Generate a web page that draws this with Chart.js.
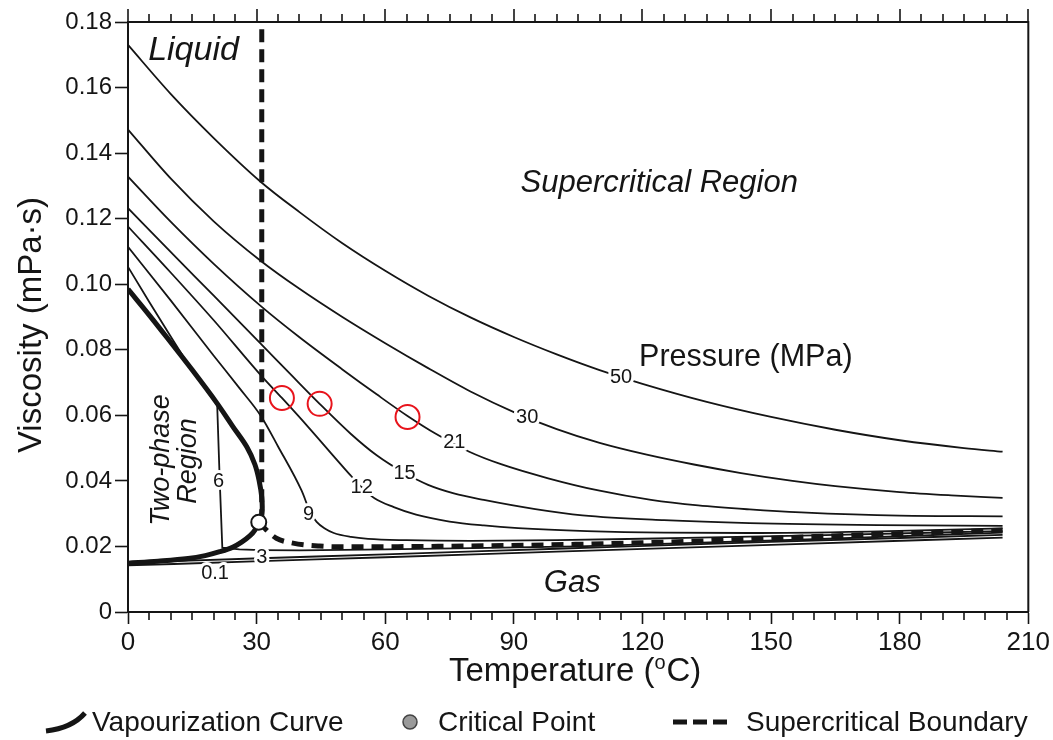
<!DOCTYPE html>
<html>
<head>
<meta charset="utf-8">
<script src="https://cdn.jsdelivr.net/npm/chart.js@4.4.1/dist/chart.umd.min.js"></script>
<style>
  html, body { margin: 0; padding: 0; background: #fff; }
  canvas { display: block; }
</style>
</head>
<body>
<canvas id="c" width="1053" height="740"></canvas>
<script>
// ---- CO2 viscosity isobars: temperature (°C) -> viscosity (mPa·s) ----
const t50 = [0, 10, 20, 31, 40, 50, 60, 70, 80, 90, 100, 110, 120, 135, 150, 165, 180, 195, 204];
const v50 = [.1730, .1580, .1446, .1312, .1220, .1125, .1041, .0965, .0898, .0839, .0786, .0738, .0696, .0641, .0595, .0556, .0524, .0500, .0489];

const t30 = [0, 10, 20, 31, 40, 50, 60, 70, 80, 90, 100, 110, 121, 132, 143, 155, 165, 180, 192, 204];
const v30 = [.1472, .1322, .1192, .1071, .0986, .0900, .0820, .0744, .0672, .0610, .0558, .0516, .0480, .0450, .0424, .0400, .0384, .0366, .0356, .0348];

const t21 = [0, 10, 20, 31, 40, 50, 58, 65.2, 72, 79.6, 87, 98, 110, 122, 133, 145, 157, 180, 204];
const v21 = [.1328, .1190, .1062, .0933, .0838, .0740, .0664, .0598, .0542, .0489, .0451, .0408, .0370, .0342, .0325, .0313, .0304, .0294, .0292];

const t15 = [0, 10, 20, 31, 38, 44.7, 52, 58, 64.5, 70, 76, 83, 95, 106, 125, 145, 175, 204];
const v15 = [.1232, .1098, .0965, .0818, .0724, .0635, .0543, .0478, .0424, .0388, .0362, .0342, .0314, .0295, .0280, .0271, .0265, .0263];

const t12 = [0, 10, 20, 31, 35.9, 42, 48, 51.7, 54.5, 57.5, 62, 67.2, 75, 83, 91, 107, 125, 145, 175, 204];
const v12 = [.1176, .1035, .0890, .0722, .0653, .0565, .0475, .0420, .0381, .0347, .0320, .0297, .0276, .0264, .0256, .0247, .0242, .0241, .0246, .0255];

const t9 = [0, 10, 20, 26, 31, 35, 40.5, 42.5, 44, 46, 48, 52, 56, 65, 80, 100, 130, 160, 204];
const v9 = [.1114, .0950, .0782, .0683, .0598, .0505, .0370, .0305, .0275, .0254, .0241, .0229, .0223, .0219, .0217, .0219, .0226, .0234, .0247];

const t6 = [0, 5, 10, 15, 20.8, 21.4, 22.0, 26, 31, 40, 60, 80, 105, 130, 160, 204];
const v6 = [.1053, .0945, .0840, .0735, .0632, .0400, .0196, .0191, .0189, .0188, .0191, .0195, .0200, .0210, .0222, .0242];

const t3 = [0, 31, 60, 100, 150, 204];
const v3 = [.0151, .0164, .0176, .0193, .0214, .0235];

const t01 = [0, 31, 60, 100, 150, 204];
const v01 = [.0142, .0155, .0167, .0184, .0205, .0227];

// vapourization curve: liquid branch down to the critical point, then gas branch back
const tVap = [0, 5, 10, 15, 20.7, 24.5, 27.7, 29.6, 30.6, 31.2, 31.3, 31.0, 30.5, 29.6, 28.4, 26.5, 24.5, 21.4, 18, 14, 7, 0];
const vVap = [.0985, .0905, .0822, .0738, .0638, .0565, .0504, .0450, .0400, .0350, .0310, .0288, .0274, .0250, .0232, .0213, .0198, .0184, .0172, .0163, .0155, .0149];

// supercritical boundary: critical isotherm and critical isobar
const tIsotherm = [31.2, 31.2];
const vIsotherm = [.0274, .18];
const tIsobar = [30.5, 32.3, 34.6, 38.5, 44.7, 50, 70, 107, 130, 160, 204];
const vIsobar = [.0274, .0250, .0225, .0210, .0201, .0199, .0200, .0207, .0215, .0230, .0250];

// critical point and highlighted states
const tCritical = [30.5];
const vCritical = [.0274];
const tMarked = [35.9, 44.7, 65.2];
const vMarked = [.0653, .0635, .0595];

// isobar labels (MPa) and where they sit on their curves
const isobarNames = ['50', '30', '21', '15', '12', '9', '6', '3', '0.1'];
const isobarNameT = [115.0, 93.1, 76.1, 64.5, 54.5, 42.1, 21.1, 31.2, 20.3];
const isobarNameV = [.0716, .0592, .0516, .0424, .0381, .0296, .0397, .0165, .0119];

// axis ticks
const xTickValues = [0, 30, 60, 90, 120, 150, 180, 210];
const xTickLabels = ['0', '30', '60', '90', '120', '150', '180', '210'];
const yTickValues = [0, .02, .04, .06, .08, .10, .12, .14, .16, .18];
const yTickLabels = ['0', '0.02', '0.04', '0.06', '0.08', '0.10', '0.12', '0.14', '0.16', '0.18'];

const FONT = '"Liberation Sans", Arial, Helvetica, sans-serif';
const INK = '#151515';

const pts = (ts, vs) => ts.map((t, i) => ({ x: t, y: vs[i] }));

const isobar = (label, ts, vs, mode) => ({
  label, data: pts(ts, vs), borderColor: INK, borderWidth: 1.8,
  pointRadius: 0, fill: false,
  ...(mode === 'straight' ? { tension: 0 } : { cubicInterpolationMode: 'monotone' })
});

// datasets listed top-most first (Chart.js paints index 0 last)
const datasets = [
  { label: 'Marked states', data: pts(tMarked, vMarked), showLine: false,
    pointRadius: 12, pointBorderWidth: 2, pointBorderColor: '#e8141c',
    pointBackgroundColor: 'rgba(0,0,0,0)', pointHoverRadius: 12 },
  { label: 'Critical Point', data: pts(tCritical, vCritical), showLine: false,
    pointRadius: 7.5, pointBorderWidth: 2, pointBorderColor: INK,
    pointBackgroundColor: '#fff', pointHoverRadius: 7.5 },
  { label: 'Vapourization Curve', data: pts(tVap, vVap), borderColor: INK,
    borderWidth: 5, pointRadius: 0, tension: 0.35, fill: false },
  { label: 'Supercritical Boundary', data: pts(tIsotherm, vIsotherm), borderColor: INK,
    borderWidth: 5, borderDash: [13, 7], pointRadius: 0, tension: 0, fill: false },
  { label: 'Supercritical Boundary (isobar)', data: pts(tIsobar, vIsobar), borderColor: INK,
    borderWidth: 5, borderDash: [12, 8], pointRadius: 0, cubicInterpolationMode: 'monotone', fill: false },
  isobar('50 MPa', t50, v50),
  isobar('30 MPa', t30, v30),
  isobar('21 MPa', t21, v21),
  isobar('15 MPa', t15, v15),
  isobar('12 MPa', t12, v12),
  isobar('9 MPa', t9, v9),
  isobar('6 MPa', t6, v6, 'straight'),
  isobar('3 MPa', t3, v3),
  isobar('0.1 MPa', t01, v01)
];

// region names, anchored in data units
const regionText = [
  { text: 'Liquid', t: 4.7, v: .1684, size: 34, italic: true, align: 'left' },
  { text: 'Supercritical Region', t: 123.9, v: .1281, size: 31, italic: true, align: 'center' },
  { text: 'Pressure (MPa)', t: 119.2, v: .0750, size: 30.5, italic: false, align: 'left' },
  { text: 'Gas', t: 97.0, v: .0061, size: 31, italic: true, align: 'left' }
];
const twoPhaseText = [
  { text: 'Two-phase', t: 7.8, v: .0464 },
  { text: 'Region', t: 14.2, v: .0461 }
];

const decorations = {
  id: 'decorations',
  afterDatasetsDraw(chart) {
    const { ctx, scales: { x, y } } = chart;
    ctx.save();
    ctx.font = `20px ${FONT}`;
    ctx.textAlign = 'center';
    ctx.textBaseline = 'middle';
    ctx.lineJoin = 'round';
    isobarNames.forEach((name, i) => {
      const px = x.getPixelForValue(isobarNameT[i]);
      const py = y.getPixelForValue(isobarNameV[i]);
      ctx.strokeStyle = '#fff';
      ctx.lineWidth = 6;
      ctx.strokeText(name, px, py);
      ctx.fillStyle = INK;
      ctx.fillText(name, px, py);
    });
    ctx.restore();
  },
  afterDraw(chart) {
    const { ctx, chartArea: a, scales: { x, y } } = chart;
    ctx.save();
    ctx.strokeStyle = INK;
    ctx.fillStyle = INK;

    // frame: top and right edges
    ctx.lineWidth = 2;
    ctx.beginPath();
    ctx.moveTo(a.left, a.top); ctx.lineTo(a.right, a.top); ctx.lineTo(a.right, a.bottom);
    ctx.stroke();

    // temperature ticks every 5 °C: top edge (all), bottom edge (minor ones)
    ctx.lineWidth = 1.6;
    for (let t = 0; t <= 210; t += 5) {
      const px = Math.round(x.getPixelForValue(t));
      const major = t % 30 === 0;
      ctx.beginPath();
      ctx.moveTo(px, a.top);
      ctx.lineTo(px, a.top - (major ? 13 : 8));
      ctx.stroke();
      if (!major) {
        ctx.beginPath();
        ctx.moveTo(px, a.bottom);
        ctx.lineTo(px, a.bottom + 8);
        ctx.stroke();
      }
    }

    // region names
    regionText.forEach(r => {
      ctx.font = `${r.italic ? 'italic ' : ''}${r.size}px ${FONT}`;
      ctx.textAlign = r.align;
      ctx.textBaseline = 'alphabetic';
      ctx.fillText(r.text, x.getPixelForValue(r.t), y.getPixelForValue(r.v));
    });
    ctx.font = `italic 27px ${FONT}`;
    ctx.textAlign = 'center';
    ctx.textBaseline = 'middle';
    twoPhaseText.forEach(r => {
      ctx.save();
      ctx.translate(x.getPixelForValue(r.t), y.getPixelForValue(r.v));
      ctx.rotate(-Math.PI / 2);
      ctx.fillText(r.text, 0, 0);
      ctx.restore();
    });

    // axis titles
    ctx.textBaseline = 'alphabetic';
    ctx.textAlign = 'left';
    const big = `33px ${FONT}`, sup = `20px ${FONT}`;
    ctx.font = big; const w1 = ctx.measureText('Temperature (').width;
    ctx.font = sup; const w2 = ctx.measureText('o').width + 1;
    ctx.font = big; const w3 = ctx.measureText('C)').width;
    let sx = (a.left + a.right) / 2 - 3 - (w1 + w2 + w3) / 2;
    const base = 681;
    ctx.font = big; ctx.fillText('Temperature (', sx, base); sx += w1;
    ctx.font = sup; ctx.fillText('o', sx, base - 12); sx += w2;
    ctx.font = big; ctx.fillText('C)', sx, base);

    ctx.save();
    ctx.translate(32, (a.top + a.bottom) / 2 + 8);
    ctx.rotate(-Math.PI / 2);
    ctx.textAlign = 'center';
    ctx.textBaseline = 'middle';
    ctx.font = `33px ${FONT}`;
    ctx.fillText('Viscosity (mPa\u00b7s)', 0, 0);
    ctx.restore();

    // key along the bottom
    const ly = 722;
    ctx.font = `28px ${FONT}`;
    ctx.textAlign = 'left';
    ctx.textBaseline = 'middle';
    ctx.lineWidth = 5;
    ctx.lineCap = 'butt';
    ctx.beginPath();
    ctx.moveTo(46, ly + 9);
    ctx.quadraticCurveTo(72, ly + 6, 85, ly - 9);
    ctx.stroke();
    ctx.fillText('Vapourization Curve', 92, ly + 1);

    ctx.beginPath();
    ctx.arc(410, ly, 7, 0, Math.PI * 2);
    ctx.fillStyle = '#9a9a9a';
    ctx.fill();
    ctx.lineWidth = 1.5;
    ctx.strokeStyle = '#444';
    ctx.stroke();
    ctx.fillStyle = INK;
    ctx.fillText('Critical Point', 438, ly + 1);

    ctx.strokeStyle = INK;
    ctx.lineWidth = 5;
    ctx.setLineDash([14, 6]);
    ctx.beginPath();
    ctx.moveTo(673, ly); ctx.lineTo(733, ly);
    ctx.stroke();
    ctx.setLineDash([]);
    ctx.fillText('Supercritical Boundary', 746, ly + 1);
    ctx.restore();
  }
};

Chart.defaults.color = INK;
Chart.defaults.font.family = FONT;

new Chart(document.getElementById('c'), {
  type: 'line',
  data: { datasets },
  options: {
    responsive: false,
    devicePixelRatio: 1,
    animation: false,
    events: [],
    layout: { padding: { top: 22, right: 23, left: 0, bottom: 0 } },
    plugins: { legend: { display: false }, tooltip: { enabled: false } },
    scales: {
      x: {
        type: 'linear', min: 0, max: 210,
        afterBuildTicks: s => { s.ticks = xTickValues.map(v => ({ value: v })); },
        afterFit: s => { s.height = 128; },
        ticks: {
          autoSkip: false, maxRotation: 0, padding: 3,
          font: { size: 26 }, color: INK,
          callback: v => xTickLabels[xTickValues.indexOf(v)]
        },
        grid: { drawOnChartArea: false, drawTicks: true, tickLength: 12, tickWidth: 1.6, tickColor: INK },
        border: { display: true, color: INK, width: 2 }
      },
      y: {
        type: 'linear', min: 0, max: 0.18,
        afterBuildTicks: s => { s.ticks = yTickValues.map(v => ({ value: v })); },
        afterFit: s => { s.width = 128; },
        ticks: {
          autoSkip: false, padding: 3,
          font: { size: 24 }, color: INK,
          callback: (v, i) => yTickLabels[i]
        },
        grid: { drawOnChartArea: false, drawTicks: true, tickLength: 13, tickWidth: 1.6, tickColor: INK },
        border: { display: true, color: INK, width: 2 }
      }
    }
  },
  plugins: [decorations]
});
</script>
</body>
</html>
